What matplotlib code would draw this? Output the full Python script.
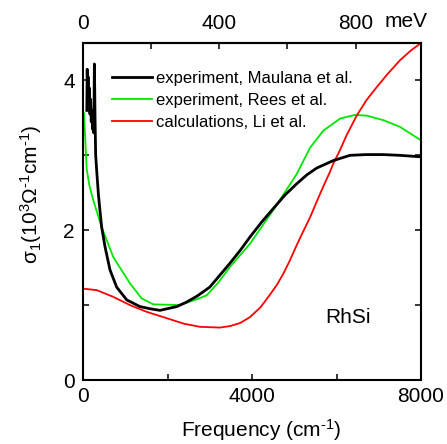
import matplotlib
matplotlib.use("Agg")
import matplotlib.pyplot as plt
import numpy as np

plt.rcParams['font.family'] = ['Liberation Sans', 'DejaVu Sans']
plt.rcParams['mathtext.fontset'] = 'custom'
plt.rcParams['mathtext.rm'] = 'Liberation Sans'
plt.rcParams['mathtext.it'] = 'Liberation Sans:italic'
plt.rcParams['mathtext.bf'] = 'Liberation Sans:bold'

# Data (frequency in cm^-1, sigma_1 in 10^3 Ohm^-1 cm^-1)
maulana_x = [90, 100, 110, 120, 135, 150, 165, 180, 195, 210, 225, 240, 255, 270, 285,
             300, 330, 363, 400, 442, 521, 639, 797, 1034, 1349, 1600,
             1822, 2218, 2450, 2700, 3000, 3240, 3479, 3720, 3953, 4230, 4505, 4780, 5058,
             5300, 5531, 5924, 6320, 6700, 7108, 7500, 8000]
maulana_y = [3.6, 4.15, 3.8, 4.05, 3.7, 3.9, 3.55, 3.75, 3.45, 3.6, 3.35, 3.5, 3.3, 4.22, 3.5,
             3.0, 2.75, 2.49, 2.27, 2.04, 1.78, 1.47, 1.24, 1.07, 0.98, 0.95,
             0.93, 0.98, 1.04, 1.12, 1.24, 1.4, 1.56, 1.73, 1.91, 2.11, 2.29, 2.47, 2.62,
             2.74, 2.83, 2.93, 3.0, 3.01, 3.01, 3.0, 2.98]

rees_x = [24, 87, 150, 244, 442, 718, 1112, 1388, 1664, 2296, 2700, 2927, 3200, 3479,
          3953, 4505, 5058, 5373, 5688, 6083, 6438, 6714, 7108, 7503, 8000]
rees_y = [3.56, 2.82, 2.6, 2.4, 2.04, 1.64, 1.29, 1.09, 1.01, 1.0, 1.08, 1.13, 1.3, 1.51,
          1.82, 2.27, 2.75, 3.1, 3.33, 3.49, 3.54, 3.53, 3.47, 3.38, 3.2]

li_x = [0, 324, 718, 1112, 1507, 1901, 2400, 2769, 3243, 3479, 3716, 3953, 4200, 4426,
        4600, 4742, 4899, 5058, 5200, 5373, 5530, 5700, 5846, 5924, 6083, 6240, 6478,
        6713, 6951, 7200, 7503, 7760, 8000]
li_y = [1.22, 1.2, 1.11, 1.0, 0.91, 0.84, 0.75, 0.71, 0.70, 0.72, 0.76, 0.84, 0.97, 1.14,
        1.28, 1.42, 1.6, 1.8, 1.97, 2.17, 2.38, 2.6, 2.78, 2.89, 3.07, 3.27, 3.53,
        3.74, 3.91, 4.08, 4.27, 4.4, 4.5]

labels = ["experiment, Maulana et al.", "experiment, Rees et al.", "calculations, Li et al."]
x_ticks = [0, 4000, 8000]
y_ticks = [0, 2, 4]
mev_ticks = [0, 400, 800]
CM_PER_MEV = 8.0655

fig = plt.figure(figsize=(4.47, 4.44), dpi=100)
ax = fig.add_axes([83/447, 64/444, 338/447, 337/444])

ax.plot(maulana_x, maulana_y, color='black', lw=2.0, label=labels[0], zorder=3,
        solid_joinstyle='round')
ax.plot(rees_x, rees_y, color='#00e600', lw=1.3, label=labels[1], zorder=2)
ax.plot(li_x, li_y, color='#ff0000', lw=1.3, label=labels[2], zorder=2)

ax.set_xlim(0, 8000)
ax.set_ylim(0, 4.5)
ax.set_xticks(x_ticks)
ax.set_xticks([2000, 6000], minor=True)
ax.set_yticks(y_ticks)
ax.set_yticks([1, 3], minor=True)
ax.tick_params(which='both', direction='in', length=4, width=1.1, labelsize=15,
               right=True, top=False)
ax.tick_params(axis='x', pad=5)
ax.tick_params(axis='y', pad=6)
for s in ax.spines.values():
    s.set_linewidth(1.5)

secax = ax.secondary_xaxis('top', functions=(lambda x: x / CM_PER_MEV, lambda m: m * CM_PER_MEV))
secax.set_xticks(mev_ticks)
secax.set_xticks([200, 600], minor=True)
secax.tick_params(which='both', direction='in', length=4, width=1.1, labelsize=15, pad=7)
secax.spines['top'].set_linewidth(1.5)
ax.text(1.02, 1.035, 'meV', transform=ax.transAxes, fontsize=15, ha='right', va='bottom')

ax.set_xlabel(r'Frequency (cm$^{\text{-}1}$)', fontsize=15)
ax.xaxis.set_label_coords(0.527, -0.11)
ax.set_ylabel(r'σ$_1$(10$^3$Ω$^{\text{-}1}$cm$^{\text{-}1}$)', fontsize=15)
ax.yaxis.set_label_coords(-0.115, 0.55)

ax.text(0.716, 0.184, 'RhSi', transform=ax.transAxes, fontsize=15, ha='left', va='center')

leg = ax.legend(loc='upper left', bbox_to_anchor=(0.085, 0.918), frameon=False, fontsize=12,
                handlelength=2.4, handletextpad=0.25, labelspacing=0.42, borderpad=0,
                borderaxespad=0)

fig.savefig('out.png', dpi=100)
